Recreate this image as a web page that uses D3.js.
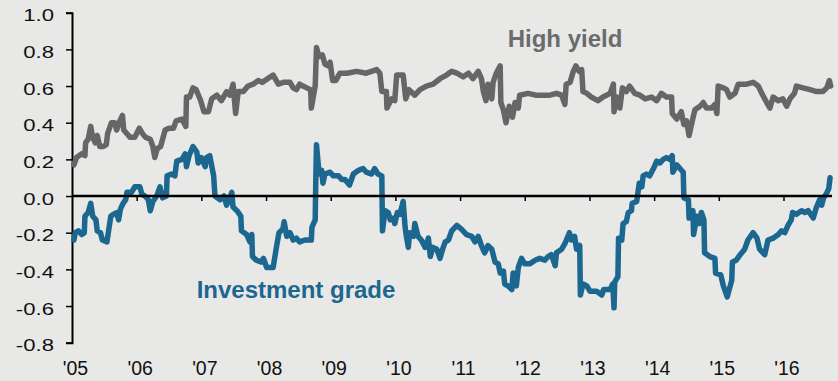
<!DOCTYPE html>
<html>
<head>
<meta charset="utf-8">
<script src="https://cdn.jsdelivr.net/npm/d3@7/dist/d3.min.js"></script>
<style>
  html, body { margin: 0; padding: 0; background: #e8e8e6; }
  svg { display: block; }
  text { font-family: Arial, "Liberation Sans", sans-serif; }
</style>
</head>
<body>
<svg id="chart" width="838" height="381"></svg>
<script>
// Rolling correlation of returns, high yield vs. investment grade (decimal years)
const highYieldDates = [
  2005.03, 2005.07, 2005.15, 2005.20, 2005.21, 2005.25, 2005.29, 2005.32, 2005.36, 2005.39,
  2005.43, 2005.48, 2005.53, 2005.55, 2005.61, 2005.66, 2005.69, 2005.74, 2005.78, 2005.80,
  2005.85, 2005.90, 2005.97, 2006.04, 2006.09, 2006.14, 2006.21, 2006.25, 2006.28, 2006.32,
  2006.37, 2006.44, 2006.50, 2006.57, 2006.61, 2006.70, 2006.76, 2006.77, 2006.82, 2006.87,
  2006.92, 2006.99, 2007.04, 2007.11, 2007.16, 2007.24, 2007.31, 2007.39, 2007.44, 2007.49,
  2007.53, 2007.57, 2007.65, 2007.72, 2007.80, 2007.88, 2007.94, 2008.11, 2008.19, 2008.27,
  2008.37, 2008.42, 2008.47, 2008.52, 2008.57, 2008.63, 2008.69, 2008.70, 2008.76, 2008.78,
  2008.82, 2008.87, 2008.91, 2008.96, 2008.99, 2009.03, 2009.08, 2009.14, 2009.25, 2009.40,
  2009.55, 2009.71, 2009.76, 2009.79, 2009.86, 2009.87, 2009.94, 2009.99, 2010.02, 2010.12,
  2010.16, 2010.21, 2010.30, 2010.38, 2010.48, 2010.58, 2010.69, 2010.79, 2010.87, 2010.95,
  2011.05, 2011.13, 2011.20, 2011.28, 2011.33, 2011.36, 2011.40, 2011.43, 2011.49, 2011.51,
  2011.56, 2011.62, 2011.63, 2011.67, 2011.71, 2011.76, 2011.81, 2011.85, 2011.90, 2011.92,
  2012.05, 2012.18, 2012.39, 2012.49, 2012.57, 2012.62, 2012.64, 2012.70, 2012.75, 2012.79,
  2012.84, 2012.88, 2012.90, 2012.96, 2013.03, 2013.13, 2013.21, 2013.32, 2013.37, 2013.38,
  2013.42, 2013.47, 2013.51, 2013.57, 2013.62, 2013.70, 2013.78, 2013.86, 2013.96, 2014.04,
  2014.11, 2014.19, 2014.27, 2014.28, 2014.35, 2014.42, 2014.46, 2014.50, 2014.54, 2014.59,
  2014.63, 2014.71, 2014.76, 2014.81, 2014.89, 2014.94, 2014.97, 2014.99, 2015.07, 2015.12,
  2015.17, 2015.25, 2015.30, 2015.43, 2015.53, 2015.61, 2015.68, 2015.74, 2015.79, 2015.84,
  2015.92, 2015.99, 2016.05, 2016.10, 2016.17, 2016.20, 2016.30, 2016.41, 2016.51, 2016.61,
  2016.67, 2016.71, 2016.73
];
const highYieldValues = [
  0.17, 0.21, 0.23, 0.22, 0.29, 0.31, 0.38, 0.32, 0.29, 0.33,
  0.27, 0.27, 0.28, 0.34, 0.40, 0.40, 0.36, 0.41, 0.44, 0.36,
  0.34, 0.32, 0.32, 0.37, 0.34, 0.32, 0.31, 0.27, 0.21, 0.26,
  0.27, 0.36, 0.37, 0.37, 0.41, 0.42, 0.38, 0.54, 0.54, 0.59,
  0.58, 0.52, 0.46, 0.46, 0.53, 0.55, 0.52, 0.57, 0.55, 0.61,
  0.45, 0.57, 0.57, 0.60, 0.61, 0.63, 0.62, 0.66, 0.61, 0.62,
  0.62, 0.59, 0.58, 0.61, 0.60, 0.59, 0.58, 0.48, 0.60, 0.81,
  0.76, 0.77, 0.72, 0.71, 0.73, 0.63, 0.63, 0.67, 0.67, 0.68,
  0.67, 0.69, 0.67, 0.57, 0.57, 0.48, 0.53, 0.52, 0.66, 0.66,
  0.53, 0.58, 0.55, 0.58, 0.60, 0.61, 0.64, 0.66, 0.68, 0.67,
  0.65, 0.67, 0.64, 0.68, 0.64, 0.57, 0.52, 0.61, 0.53, 0.62,
  0.67, 0.71, 0.51, 0.47, 0.40, 0.49, 0.43, 0.51, 0.48, 0.55,
  0.56, 0.55, 0.55, 0.56, 0.55, 0.50, 0.61, 0.62, 0.68, 0.71,
  0.68, 0.69, 0.57, 0.56, 0.54, 0.52, 0.54, 0.56, 0.61, 0.46,
  0.54, 0.48, 0.59, 0.57, 0.60, 0.56, 0.55, 0.53, 0.54, 0.52,
  0.56, 0.54, 0.54, 0.45, 0.42, 0.46, 0.39, 0.41, 0.33, 0.41,
  0.47, 0.49, 0.51, 0.48, 0.48, 0.50, 0.45, 0.60, 0.59, 0.58,
  0.54, 0.56, 0.61, 0.61, 0.62, 0.60, 0.55, 0.51, 0.48, 0.54,
  0.52, 0.53, 0.49, 0.53, 0.56, 0.60, 0.59, 0.58, 0.57, 0.57,
  0.59, 0.63, 0.60
];

const investmentGradeDates = [
  2005.03, 2005.05, 2005.10, 2005.15, 2005.19, 2005.20, 2005.25, 2005.29, 2005.32, 2005.37,
  2005.39, 2005.44, 2005.47, 2005.54, 2005.60, 2005.64, 2005.69, 2005.72, 2005.75, 2005.79,
  2005.83, 2005.85, 2005.92, 2005.97, 2006.05, 2006.08, 2006.13, 2006.18, 2006.21, 2006.25,
  2006.31, 2006.36, 2006.40, 2006.46, 2006.47, 2006.54, 2006.59, 2006.62, 2006.70, 2006.75,
  2006.77, 2006.81, 2006.87, 2006.93, 2006.95, 2007.00, 2007.06, 2007.08, 2007.13, 2007.19,
  2007.21, 2007.29, 2007.35, 2007.39, 2007.43, 2007.47, 2007.49, 2007.55, 2007.61, 2007.62,
  2007.70, 2007.75, 2007.78, 2007.79, 2007.85, 2007.93, 2007.96, 2008.01, 2008.11, 2008.16,
  2008.20, 2008.26, 2008.28, 2008.32, 2008.37, 2008.42, 2008.47, 2008.52, 2008.60, 2008.70,
  2008.71, 2008.76, 2008.77, 2008.78, 2008.82, 2008.86, 2008.88, 2008.91, 2008.99, 2009.04,
  2009.12, 2009.17, 2009.22, 2009.29, 2009.35, 2009.43, 2009.50, 2009.55, 2009.63, 2009.68,
  2009.73, 2009.79, 2009.80, 2009.84, 2009.89, 2009.92, 2009.97, 2009.99, 2010.03, 2010.07,
  2010.12, 2010.15, 2010.17, 2010.20, 2010.22, 2010.28, 2010.30, 2010.35, 2010.40, 2010.46,
  2010.51, 2010.54, 2010.58, 2010.64, 2010.69, 2010.73, 2010.77, 2010.82, 2010.87, 2010.95,
  2011.02, 2011.10, 2011.18, 2011.23, 2011.28, 2011.33, 2011.38, 2011.43, 2011.49, 2011.54,
  2011.59, 2011.62, 2011.67, 2011.69, 2011.74, 2011.80, 2011.82, 2011.87, 2011.90, 2011.95,
  2012.00, 2012.08, 2012.16, 2012.23, 2012.31, 2012.36, 2012.41, 2012.47, 2012.49, 2012.57,
  2012.62, 2012.69, 2012.72, 2012.77, 2012.80, 2012.85, 2012.86, 2012.90, 2012.96, 2013.01,
  2013.11, 2013.19, 2013.22, 2013.32, 2013.36, 2013.38, 2013.39, 2013.44, 2013.45, 2013.50,
  2013.52, 2013.57, 2013.60, 2013.65, 2013.66, 2013.73, 2013.77, 2013.81, 2013.83, 2013.88,
  2013.93, 2013.99, 2014.04, 2014.09, 2014.14, 2014.19, 2014.24, 2014.28, 2014.29, 2014.35,
  2014.40, 2014.45, 2014.46, 2014.53, 2014.54, 2014.60, 2014.61, 2014.66, 2014.70, 2014.73,
  2014.77, 2014.78, 2014.86, 2014.94, 2014.95, 2015.03, 2015.07, 2015.13, 2015.20, 2015.21,
  2015.27, 2015.33, 2015.40, 2015.45, 2015.53, 2015.59, 2015.63, 2015.71, 2015.76, 2015.84,
  2015.92, 2015.97, 2016.02, 2016.07, 2016.12, 2016.14, 2016.20, 2016.28, 2016.33, 2016.38,
  2016.46, 2016.51, 2016.56, 2016.59, 2016.62, 2016.66, 2016.70, 2016.72
];
const investmentGradeValues = [
  -0.24, -0.20, -0.19, -0.21, -0.20, -0.11, -0.09, -0.04, -0.11, -0.13,
  -0.19, -0.20, -0.24, -0.25, -0.11, -0.10, -0.09, -0.13, -0.07, -0.04,
  -0.02,  0.02,  0.02,  0.05,  0.05,  0.01,  0.00, -0.02, -0.08, -0.03,
   0.00,  0.05, -0.01,  0.00,  0.11,  0.12,  0.11,  0.19,  0.20,  0.23,
   0.16,  0.22,  0.27,  0.24,  0.18,  0.21,  0.16,  0.21,  0.22,  0.11,
   0.00, -0.02,  0.00, -0.05, -0.02,  0.02, -0.06, -0.08, -0.11, -0.19,
  -0.21, -0.25, -0.21, -0.33, -0.35, -0.36, -0.34, -0.39, -0.39, -0.28,
  -0.20, -0.18, -0.14, -0.22, -0.20, -0.24, -0.23, -0.25, -0.24, -0.24,
  -0.17, -0.13,  0.11,  0.28,  0.12,  0.14,  0.07,  0.12,  0.13,  0.11,
   0.11,  0.09,  0.09,  0.06,  0.12,  0.14,  0.15,  0.13,  0.12,  0.15,
   0.12,  0.11, -0.19, -0.08, -0.09, -0.13, -0.12, -0.15, -0.09, -0.10,
  -0.03, -0.17, -0.22, -0.28, -0.20, -0.22, -0.15, -0.22, -0.24, -0.28,
  -0.23, -0.33, -0.28, -0.29, -0.34, -0.29, -0.25, -0.24, -0.19, -0.16,
  -0.18, -0.21, -0.22, -0.25, -0.22, -0.27, -0.31, -0.27, -0.29, -0.36,
  -0.37, -0.42, -0.41, -0.48, -0.49, -0.51, -0.42, -0.49, -0.39, -0.34,
  -0.37, -0.37, -0.35, -0.34, -0.35, -0.33, -0.32, -0.38, -0.31, -0.29,
  -0.26, -0.20, -0.24, -0.22, -0.29, -0.27, -0.54, -0.48, -0.49, -0.52,
  -0.52, -0.54, -0.51, -0.51, -0.48, -0.61, -0.47, -0.44, -0.23, -0.24,
  -0.15, -0.14, -0.09, -0.08, -0.04, -0.03,  0.07,  0.05,  0.11,  0.12,
   0.11,  0.15,  0.19,  0.18,  0.20,  0.21,  0.20,  0.22,  0.13,  0.17,
   0.15,  0.13, -0.01, -0.02, -0.12, -0.08, -0.21, -0.11, -0.15, -0.09,
  -0.13, -0.31, -0.33, -0.34, -0.42, -0.43, -0.49, -0.55, -0.46, -0.36,
  -0.35, -0.32, -0.29, -0.24, -0.20, -0.23, -0.29, -0.32, -0.24, -0.23,
  -0.21, -0.19, -0.20, -0.16, -0.13, -0.09, -0.10, -0.08, -0.09, -0.08,
  -0.12, -0.06, -0.02, -0.05, -0.01,  0.01,  0.04,  0.10
];

const yTicks = [-0.8, -0.6, -0.4, -0.2, 0.0, 0.2, 0.4, 0.6, 0.8, 1.0];
const xYears = [2005, 2006, 2007, 2008, 2009, 2010, 2011, 2012, 2013, 2014, 2015, 2016];
const xLabels = ["'05", "'06", "'07", "'08", "'09", "'10", "'11", "'12", "'13", "'14", "'15", "'16"];

const seriesNames = ["High yield", "Investment grade"];
const seriesColors = ["#666666", "#1b6790"];

const svg = d3.select("#chart");

const x = d3.scaleLinear().domain([2005, 2016.75]).range([72, 832]);
const y = d3.scaleLinear().domain([-0.8, 1.0]).range([342.7, 12.7]);

// Y axis on the left
const yAxis = d3.axisLeft(y)
  .tickValues(yTicks)
  .tickFormat(d3.format(".1f"))
  .tickSize(6);

const gy = svg.append("g")
  .attr("transform", "translate(72,0)")
  .call(yAxis);
gy.select(".domain").attr("stroke", "#000").attr("stroke-width", 2);
gy.selectAll(".tick line").attr("stroke", "#000").attr("stroke-width", 1.5);
// Wide-set tick numbers: drawn at 17px and stretched horizontally
gy.selectAll(".tick text")
  .attr("x", 0)
  .attr("dy", null)
  .attr("y", 0)
  .attr("transform", "translate(-18,8) scale(1.28,1)")
  .attr("fill", "#111")
  .style("font-size", "17.3px")
  .text(d => d3.format(".1f")(d).replace("−", "-"));

// Year labels along the bottom
svg.append("g")
  .selectAll("text")
  .data(xYears)
  .join("text")
  .attr("x", d => x(d) + 3.5)
  .attr("y", 375)
  .attr("text-anchor", "middle")
  .attr("fill", "#111")
  .style("font-size", "19.5px")
  .text((d, i) => xLabels[i]);

// Series lines
const line = d3.line()
  .x(d => x(d[0]))
  .y(d => y(d[1]));

const series = [
  d3.zip(highYieldDates, highYieldValues),
  d3.zip(investmentGradeDates, investmentGradeValues)
];

svg.append("g")
  .selectAll("path")
  .data(series)
  .join("path")
  .attr("d", line)
  .attr("fill", "none")
  .attr("stroke", (d, i) => seriesColors[i])
  .attr("stroke-width", 5.5)
  .attr("stroke-linejoin", "round")
  .attr("stroke-linecap", "round");

// Zero line with year ticks hanging below it
const xAxis = d3.axisBottom(x)
  .tickValues(xYears.slice(1))
  .tickSize(5)
  .tickFormat("");
const gx = svg.append("g")
  .attr("transform", `translate(0,${y(0)})`)
  .call(xAxis);
gx.select(".domain").attr("stroke", "#000").attr("stroke-width", 2.5)
  .attr("d", `M72,0H832`);
gx.selectAll(".tick line").attr("stroke", "#000").attr("stroke-width", 1.5);

// Series labels
svg.append("text")
  .attr("x", 565)
  .attr("y", 47)
  .attr("text-anchor", "middle")
  .attr("fill", "#6b6b6b")
  .style("font-size", "24px")
  .style("font-weight", "bold")
  .text(seriesNames[0]);

svg.append("text")
  .attr("x", 296)
  .attr("y", 298)
  .attr("text-anchor", "middle")
  .attr("fill", seriesColors[1])
  .style("font-size", "24px")
  .style("font-weight", "bold")
  .text(seriesNames[1]);
</script>
</body>
</html>
